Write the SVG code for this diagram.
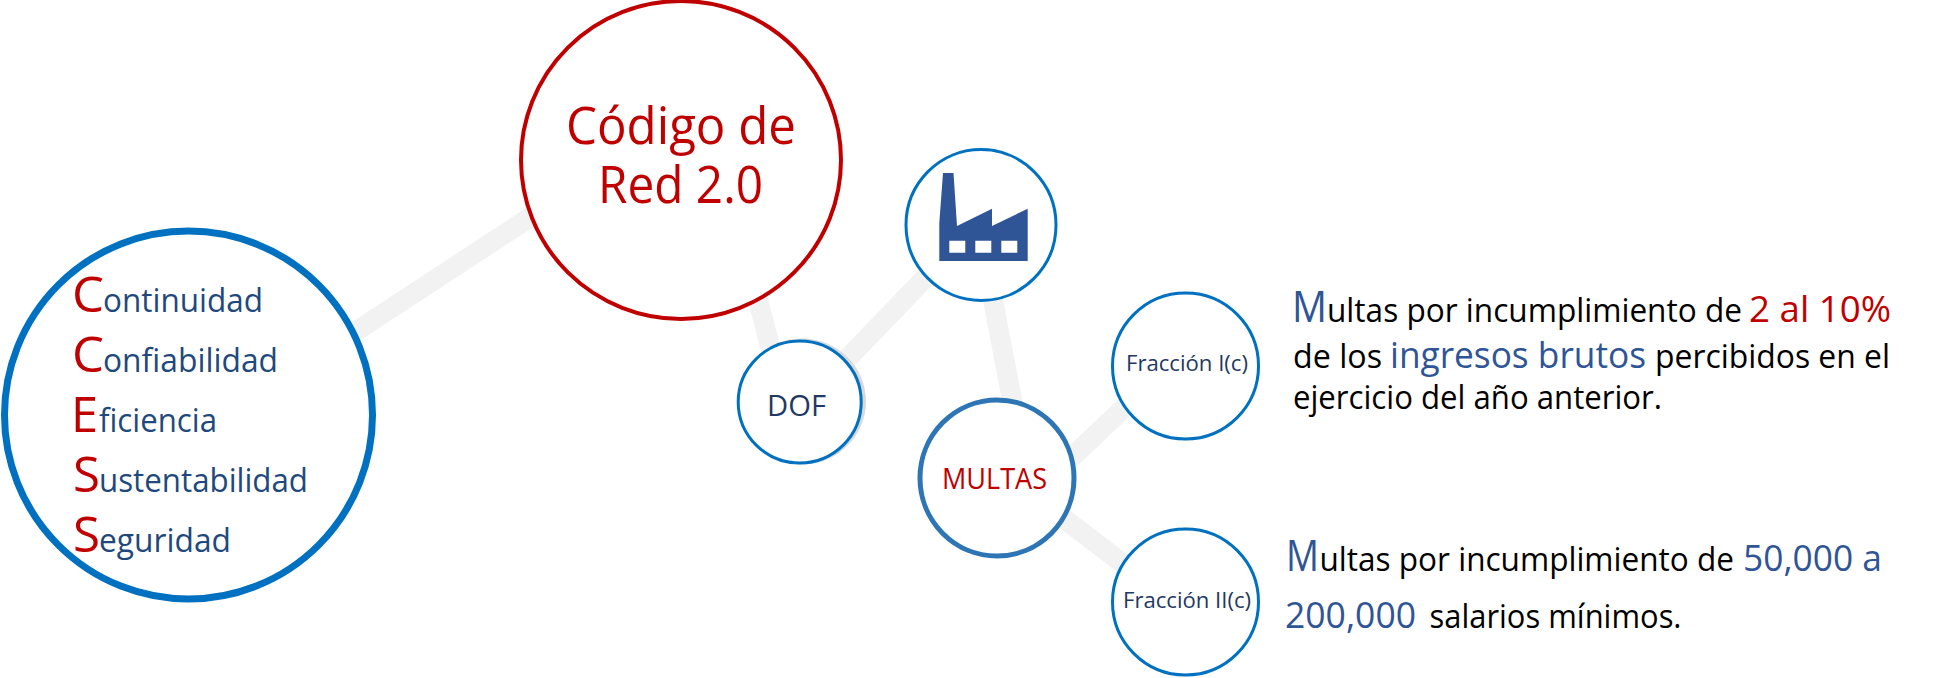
<svg xmlns="http://www.w3.org/2000/svg" width="1948" height="678" viewBox="0 0 1948 678">
<style>
text{font-family:"Open Sans","Noto Sans","Liberation Sans",sans-serif;font-weight:400}
.c{fill:none;stroke:#f2f2f2;stroke-width:20}
.n{fill:#fff;stroke:#0070c0}
.r{fill:#c00000}.b{fill:#1f497d}.d{fill:#2f5597}.k{fill:#000}.v{fill:#1f3864}
.s32{font-size:33px}.s49{font-size:49px}.s36{font-size:36px}.s43{font-size:43px}.s50{font-size:51px}.s28{font-size:29px}.s22{font-size:22.500px}
</style>
<rect width="1948" height="678" fill="#fff"/>
<g id="connectors">
<line class="c" x1="355" y1="332" x2="535" y2="214"/>
<line class="c" x1="757" y1="296" x2="771" y2="350"/>
<line class="c" x1="845" y1="361" x2="928" y2="275"/>
<line class="c" x1="992" y1="295" x2="1013" y2="405"/>
<line class="c" x1="1068" y1="461" x2="1128" y2="404"/>
<line class="c" x1="1058" y1="514" x2="1126" y2="566"/>
</g>
<g id="ccess"><ellipse class="n" cx="188.500" cy="415" rx="184" ry="184" stroke-width="7"/>
<text y="312"><tspan x="72" class="r s49" textLength="32" lengthAdjust="spacingAndGlyphs">C</tspan><tspan x="103" class="b s32" textLength="160" lengthAdjust="spacingAndGlyphs">ontinuidad</tspan></text>
<text y="372"><tspan x="72" class="r s49" textLength="32" lengthAdjust="spacingAndGlyphs">C</tspan><tspan x="103" class="b s32" textLength="175" lengthAdjust="spacingAndGlyphs">onfiabilidad</tspan></text>
<text y="432"><tspan x="71" class="r s49" textLength="27" lengthAdjust="spacingAndGlyphs">E</tspan><tspan x="99" class="b s32" textLength="118" lengthAdjust="spacingAndGlyphs">ficiencia</tspan></text>
<text y="492"><tspan x="73" class="r s49" textLength="27" lengthAdjust="spacingAndGlyphs">S</tspan><tspan x="99" class="b s32" textLength="209" lengthAdjust="spacingAndGlyphs">ustentabilidad</tspan></text>
<text y="552"><tspan x="73" class="r s49" textLength="27" lengthAdjust="spacingAndGlyphs">S</tspan><tspan x="99" class="b s32" textLength="132" lengthAdjust="spacingAndGlyphs">eguridad</tspan></text></g>
<g id="codigo"><ellipse class="n" style="stroke:#c00000" cx="681" cy="160" rx="160" ry="159" stroke-width="4"/>
<text class="r s50"><tspan x="566" y="143.500" textLength="230" lengthAdjust="spacingAndGlyphs">Código de</tspan><tspan x="598" y="203" textLength="165" lengthAdjust="spacingAndGlyphs">Red 2.0</tspan></text></g>
<g id="fabrica"><ellipse class="n" cx="981" cy="225" rx="75" ry="75.500" stroke-width="3"/>
<path fill="#2f5597" fill-rule="evenodd" d="M943 173H953.500L957 226L992 208.700V226L1027.700 208.700V261H939.300V223ZM949.300 240.700V252.700H965.300V240.700ZM975.300 240.700V252.700H991.300V240.700ZM1001.300 240.700V252.700H1017.300V240.700Z"/></g>
<g id="dof"><ellipse cx="802" cy="401.500" rx="64" ry="63" fill="#d9d9d9"/><ellipse class="n" cx="799.700" cy="402" rx="61.500" ry="61" stroke-width="3"/>
<text x="767" y="415.500" class="v s28" textLength="59" lengthAdjust="spacingAndGlyphs">DOF</text></g>
<g id="multas"><ellipse class="n" style="stroke:#2e75b6" cx="997" cy="478" rx="77" ry="78" stroke-width="5"/>
<text x="942" y="488.500" class="r s28" textLength="105" lengthAdjust="spacingAndGlyphs">MULTAS</text></g>
<g id="f1"><ellipse class="n" cx="1185.500" cy="366" rx="73" ry="73" stroke-width="3"/>
<text x="1126" y="370.500" class="v s22" textLength="122" lengthAdjust="spacingAndGlyphs">Fracción I(c)</text></g>
<g id="f2"><ellipse class="n" cx="1185.500" cy="602" rx="73" ry="73" stroke-width="3"/>
<text x="1123" y="608" class="v s22" textLength="128" lengthAdjust="spacingAndGlyphs">Fracción II(c)</text></g>
<g id="t1">
<text y="322"><tspan x="1292" class="d s43" textLength="35" lengthAdjust="spacingAndGlyphs">M</tspan><tspan x="1327" class="k s32" textLength="415" lengthAdjust="spacingAndGlyphs">ultas por incumplimiento de</tspan><tspan x="1749" class="r s36" textLength="142" lengthAdjust="spacingAndGlyphs">2 al 10%</tspan></text>
<text y="367.500"><tspan x="1293" class="k s32" textLength="89" lengthAdjust="spacingAndGlyphs">de los</tspan><tspan x="1390" class="d s36" textLength="256" lengthAdjust="spacingAndGlyphs">ingresos brutos</tspan><tspan x="1655" class="k s32" textLength="235" lengthAdjust="spacingAndGlyphs">percibidos en el</tspan></text>
<text x="1293" y="408.500" class="k s32" textLength="369" lengthAdjust="spacingAndGlyphs">ejercicio del año anterior.</text></g>
<g id="t2">
<text y="570.700"><tspan x="1286" class="d s43" textLength="33" lengthAdjust="spacingAndGlyphs">M</tspan><tspan x="1319.500" class="k s32" textLength="414.500" lengthAdjust="spacingAndGlyphs">ultas por incumplimiento de</tspan><tspan x="1743" class="d s36" textLength="139" lengthAdjust="spacingAndGlyphs">50,000 a</tspan></text>
<text y="628"><tspan x="1285" class="d s36" textLength="131" lengthAdjust="spacingAndGlyphs">200,000</tspan><tspan x="1429.500" class="k s32" textLength="252" lengthAdjust="spacingAndGlyphs">salarios mínimos.</tspan></text></g>
</svg>
